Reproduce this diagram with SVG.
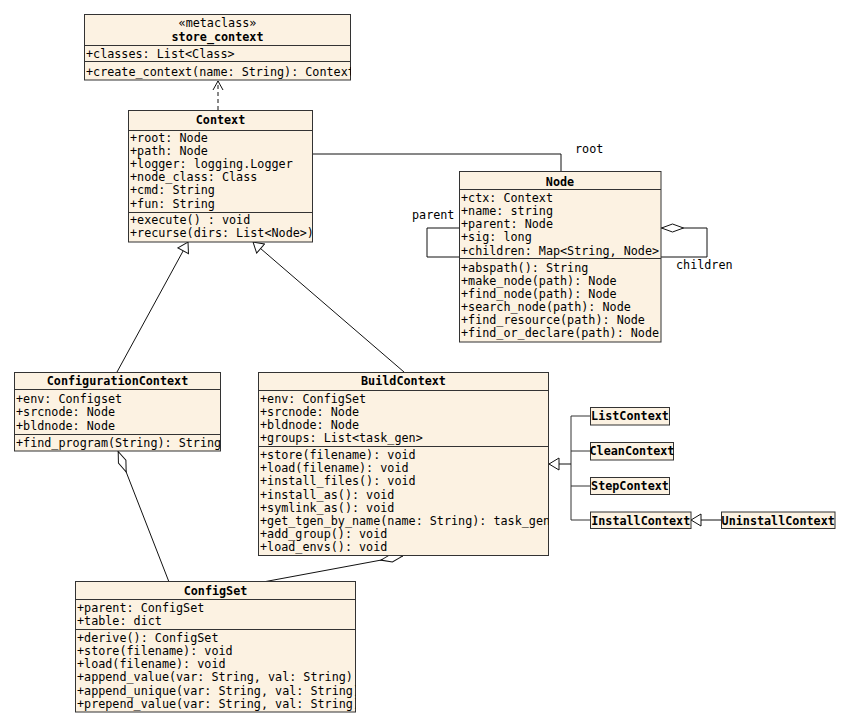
<svg xmlns="http://www.w3.org/2000/svg" width="850" height="727" viewBox="0 0 850 727">
<style>
.box{fill:#fcf2e2;stroke:#333;stroke-width:1}
.sep{stroke:#333;stroke-width:1}
text{font-family:"DejaVu Sans Mono","Liberation Mono",monospace;font-size:11.75px;fill:#000}
.t{font-weight:bold;text-anchor:middle}
.c{text-anchor:middle}
.ln{fill:none;stroke:#111;stroke-width:1}
.tree{fill:none;stroke:#333;stroke-width:1}
</style>
<defs>
<marker id="gen" viewBox="0 0 12 14" refX="11" refY="7" markerWidth="12" markerHeight="14" orient="auto" markerUnits="userSpaceOnUse"><path d="M1,1 L11,7 L1,13 z" fill="#fff" stroke="#111" stroke-width="1"/></marker>
<marker id="dep" viewBox="0 0 12 12" refX="10" refY="6" markerWidth="12" markerHeight="12" orient="auto" markerUnits="userSpaceOnUse"><path d="M1,1 L10,6 L1,11" fill="none" stroke="#111" stroke-width="1"/></marker>
<marker id="agg" viewBox="0 0 24 10" refX="0" refY="5" markerWidth="24" markerHeight="10" orient="auto" markerUnits="userSpaceOnUse"><path d="M0.5,5 L11.5,1 L22.5,5 L11.5,9 z" fill="#fff" stroke="#111" stroke-width="1"/></marker>
<clipPath id="cl-store"><rect x="84" y="14" width="267" height="66"/></clipPath>
<clipPath id="cl-cfgctx"><rect x="14" y="372" width="206.5" height="79"/></clipPath>
<clipPath id="cl-build"><rect x="258" y="372" width="290.5" height="184"/></clipPath>
<clipPath id="cl-cfgset"><rect x="75" y="581" width="280.5" height="131"/></clipPath>
</defs>

<g id="connectors">
<path class="ln" d="M218,110 L218,81" stroke-dasharray="4,3" marker-end="url(#dep)"/>
<path class="ln" d="M312,154 H561 V172"/>
<path class="ln" d="M459,228 H427 V257 H459"/>
<path class="ln" d="M661,228 H707 V257 H661" marker-start="url(#agg)"/>
<path class="ln" d="M117,372 L188,242" marker-end="url(#gen)"/>
<path class="ln" d="M404,372 L253,242" marker-end="url(#gen)"/>
<path class="ln" d="M118,451 L169,582" marker-start="url(#agg)"/>
<path class="ln" d="M403,556 L263,582" marker-start="url(#agg)"/>
<path class="tree" d="M571,416 V520 M571,416 H590 M571,451 H590 M571,486 H590 M571,520 H590"/>
<path class="ln" d="M571,464 H549" stroke-width="2" marker-end="url(#gen)"/>
<path class="ln" d="M721,520 H691" marker-end="url(#gen)"/>
<text x="575" y="153">root</text>
<text x="412" y="219">parent</text>
<text x="676" y="269">children</text>
</g>

<g id="store_context">
<rect class="box" x="84.5" y="14.5" width="266" height="65.5"/>
<line class="sep" x1="84.5" y1="45.5" x2="350.5" y2="45.5"/>
<line class="sep" x1="84.5" y1="61.5" x2="350.5" y2="61.5"/>
<g clip-path="url(#cl-store)">
<text class="c" x="217.5" y="27">«metaclass»</text>
<text class="t" x="217.5" y="41">store_context</text>
<text x="86" y="58">+classes: List&lt;Class&gt;</text>
<text x="86" y="76">+create_context(name: String): Context</text>
</g>
</g>

<g id="Context">
<rect class="box" x="128.5" y="110.5" width="184" height="131.5"/>
<line class="sep" x1="128.5" y1="130.5" x2="312.5" y2="130.5"/>
<line class="sep" x1="128.5" y1="212.5" x2="312.5" y2="212.5"/>
<text class="t" x="220.5" y="124">Context</text>
<text x="130" y="141.5">+root: Node</text>
<text x="130" y="154.7">+path: Node</text>
<text x="130" y="167.9">+logger: logging.Logger</text>
<text x="130" y="181.1">+node_class: Class</text>
<text x="130" y="194.3">+cmd: String</text>
<text x="130" y="207.5">+fun: String</text>
<text x="130" y="224">+execute() : void</text>
<text x="130" y="237.2">+recurse(dirs: List&lt;Node&gt;)</text>
</g>

<g id="Node">
<rect class="box" x="459.5" y="171.5" width="201.5" height="170.5"/>
<line class="sep" x1="459.5" y1="189.5" x2="661" y2="189.5"/>
<line class="sep" x1="459.5" y1="258.5" x2="661" y2="258.5"/>
<text class="t" x="560" y="185.7">Node</text>
<text x="461" y="202">+ctx: Context</text>
<text x="461" y="215">+name: string</text>
<text x="461" y="228">+parent: Node</text>
<text x="461" y="241">+sig: long</text>
<text x="461" y="254.5">+children: Map&lt;String, Node&gt;</text>
<text x="461" y="272">+abspath(): String</text>
<text x="461" y="285">+make_node(path): Node</text>
<text x="461" y="298">+find_node(path): Node</text>
<text x="461" y="311">+search_node(path): Node</text>
<text x="461" y="324">+find_resource(path): Node</text>
<text x="461" y="337">+find_or_declare(path): Node</text>
</g>

<g id="ConfigurationContext">
<rect class="box" x="14.5" y="372.5" width="206" height="78.5"/>
<line class="sep" x1="14.5" y1="389.5" x2="220.5" y2="389.5"/>
<line class="sep" x1="14.5" y1="434.5" x2="220.5" y2="434.5"/>
<g clip-path="url(#cl-cfgctx)">
<text class="t" x="117.5" y="385">ConfigurationContext</text>
<text x="16" y="403">+env: Configset</text>
<text x="16" y="416">+srcnode: Node</text>
<text x="16" y="429.5">+bldnode: Node</text>
<text x="16" y="446.5">+find_program(String): String</text>
</g>
</g>

<g id="BuildContext">
<rect class="box" x="258.5" y="372.5" width="290" height="183"/>
<line class="sep" x1="258.5" y1="390.5" x2="548.5" y2="390.5"/>
<line class="sep" x1="258.5" y1="446.5" x2="548.5" y2="446.5"/>
<g clip-path="url(#cl-build)">
<text class="t" x="403.5" y="385">BuildContext</text>
<text x="260" y="403">+env: ConfigSet</text>
<text x="260" y="416">+srcnode: Node</text>
<text x="260" y="429">+bldnode: Node</text>
<text x="260" y="442">+groups: List&lt;task_gen&gt;</text>
<text x="260" y="459">+store(filename): void</text>
<text x="260" y="472.2">+load(filename): void</text>
<text x="260" y="485.4">+install_files(): void</text>
<text x="260" y="498.6">+install_as(): void</text>
<text x="260" y="511.8">+symlink_as(): void</text>
<text x="260" y="525">+get_tgen_by_name(name: String): task_gen</text>
<text x="260" y="538.2">+add_group(): void</text>
<text x="260" y="551.4">+load_envs(): void</text>
</g>
</g>

<g id="ConfigSet">
<rect class="box" x="75.5" y="581.5" width="280" height="130.5"/>
<line class="sep" x1="75.5" y1="599.5" x2="355.5" y2="599.5"/>
<line class="sep" x1="75.5" y1="629.5" x2="355.5" y2="629.5"/>
<g clip-path="url(#cl-cfgset)">
<text class="t" x="215.5" y="595">ConfigSet</text>
<text x="77" y="612">+parent: ConfigSet</text>
<text x="77" y="624.7">+table: dict</text>
<text x="77" y="641.7">+derive(): ConfigSet</text>
<text x="77" y="654.9">+store(filename): void</text>
<text x="77" y="668.1">+load(filename): void</text>
<text x="77" y="681.3">+append_value(var: String, val: String)</text>
<text x="77" y="694.5">+append_unique(var: String, val: String)</text>
<text x="77" y="707.7">+prepend_value(var: String, val: String)</text>
</g>
</g>

<g id="ListContext">
<rect class="box" x="590.5" y="407.5" width="79" height="17.5"/>
<text class="t" x="630" y="420.3">ListContext</text>
</g>
<g id="CleanContext">
<rect class="box" x="590.5" y="442.5" width="83" height="17.5"/>
<text class="t" x="632" y="455.3">CleanContext</text>
</g>
<g id="StepContext">
<rect class="box" x="590.5" y="477.5" width="79" height="17"/>
<text class="t" x="630" y="490">StepContext</text>
</g>
<g id="InstallContext">
<rect class="box" x="590.5" y="512" width="100.5" height="16.5"/>
<text class="t" x="640.7" y="524.5">InstallContext</text>
</g>
<g id="UninstallContext">
<rect class="box" x="721.5" y="512" width="113.5" height="16.5"/>
<text class="t" x="778.2" y="524.5">UninstallContext</text>
</g>
</svg>
